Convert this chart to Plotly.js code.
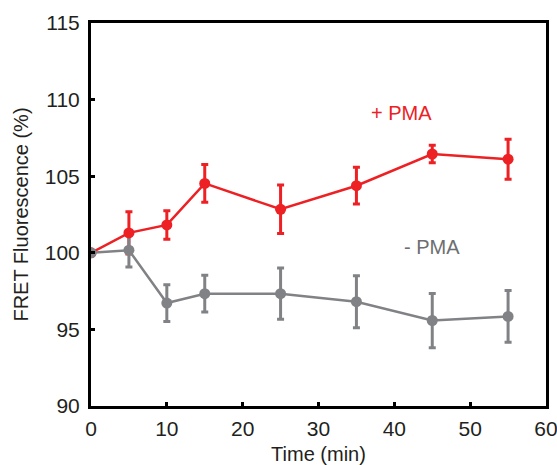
<!DOCTYPE html>
<html>
<head>
<meta charset="utf-8">
<script src="https://cdn.plot.ly/plotly-3.0.1.min.js"></script>
<style>html,body{margin:0;padding:0;background:#fff;}#chart{width:557px;height:465px;}</style>
</head>
<body>
<div id="chart"></div>
<script>
// Data
const timeMin = [0, 5, 10, 15, 25, 35, 45, 55];
const plusPMA = [100, 101.30, 101.82, 104.53, 102.84, 104.38, 106.45, 106.11];
const plusPMAErr = [0, 1.38, 0.93, 1.23, 1.58, 1.2, 0.57, 1.31];
const minusPMA = [100, 100.17, 96.72, 97.33, 97.33, 96.81, 95.58, 95.85];
const minusPMAErr = [0, 1.1, 1.2, 1.2, 1.67, 1.7, 1.77, 1.69];
const xTicks = [0, 10, 20, 30, 40, 50, 60];
const yTicks = [90, 95, 100, 105, 110, 115];
const labelPlus = "+ PMA";
const labelMinus = "- PMA";

const RED = "#ed2024";
const GRAY = "#808285";
const FONT = "Liberation Sans, Arial, Helvetica, sans-serif";

function errTrace(y, err, color) {
  return {
    x: timeMin, y: y, type: "scatter", mode: "markers",
    marker: {size: 1, opacity: 0, color: color},
    error_y: {type: "data", array: err, visible: true, color: color, thickness: 3, width: 3.5},
    hoverinfo: "skip", showlegend: false
  };
}
function lineTrace(y, color) {
  return {
    x: timeMin, y: y, type: "scatter", mode: "lines+markers",
    line: {color: color, width: 2.5},
    marker: {color: color, size: 11},
    showlegend: false
  };
}

const data = [
  errTrace(plusPMA, plusPMAErr, RED),
  errTrace(minusPMA, minusPMAErr, GRAY),
  lineTrace(plusPMA, RED),
  lineTrace(minusPMA, GRAY)
];

const axisCommon = {
  showgrid: false, zeroline: false,
  showline: true, mirror: true, linecolor: "#000", linewidth: 3,
  ticks: "inside", ticklen: 4, tickwidth: 3, tickcolor: "#000",
  ticklabeloverflow: "allow",
  tickfont: {family: FONT, size: 21, color: "#231f20"}
};

const layout = {
  width: 557, height: 465,
  margin: {l: 91, r: 11, t: 23, b: 59},
  paper_bgcolor: "#fff", plot_bgcolor: "#fff",
  font: {family: FONT, size: 20, color: "#231f20"},
  xaxis: Object.assign({}, axisCommon, {
    range: [0, 60], tickvals: xTicks, ticktext: xTicks.map(String),
    ticklabelstandoff: 2,
    title: {text: "Time (min)", font: {family: FONT, size: 20, color: "#231f20"}, standoff: 11}
  }),
  yaxis: Object.assign({}, axisCommon, {
    range: [90, 115], tickvals: yTicks, ticktext: yTicks.map(String),
    ticklabelstandoff: 4,
    title: {text: "FRET Fluorescence (%)", font: {family: FONT, size: 20, color: "#231f20"}, standoff: 11}
  }),
  annotations: [
    {x: 40.9, y: 109.1, xref: "x", yref: "y", text: labelPlus, showarrow: false,
     font: {family: FONT, size: 20, color: RED}},
    {x: 45.0, y: 100.4, xref: "x", yref: "y", text: labelMinus, showarrow: false,
     font: {family: FONT, size: 20, color: "#6d6e71"}}
  ]
};

Plotly.newPlot("chart", data, layout, {displayModeBar: false, staticPlot: true});
</script>
</body>
</html>
